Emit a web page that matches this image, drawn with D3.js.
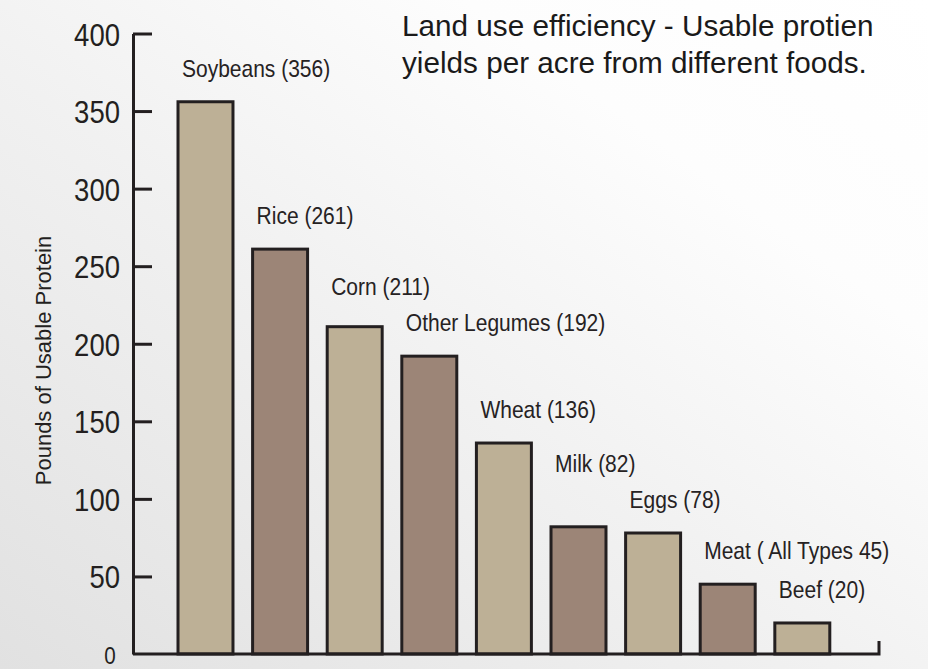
<!DOCTYPE html>
<html>
<head>
<meta charset="utf-8">
<script src="https://cdn.jsdelivr.net/npm/d3@7"></script>
<style>
  html, body { margin: 0; padding: 0; }
  svg { display: block; }
</style>
</head>
<body>
<script>
const categories = ["Soybeans", "Rice", "Corn", "Other Legumes", "Wheat", "Milk", "Eggs", "Meat", "Beef"];
const values = [356, 261, 211, 192, 136, 82, 78, 45, 20];
const barLabels = ["Soybeans (356)", "Rice (261)", "Corn (211)", "Other Legumes (192)", "Wheat (136)", "Milk (82)", "Eggs (78)", "Meat ( All Types 45)", "Beef (20)"];
const tickValues = [0, 50, 100, 150, 200, 250, 300, 350, 400];
const titleLines = ["Land use efficiency - Usable protien", "yields per acre from different foods."];
const yAxisTitle = "Pounds of Usable Protein";

const W = 928, H = 669;
const sans = "'Liberation Sans', Arial, Helvetica, sans-serif";
const ink = "#231f20";
const barColors = ["#bdb096", "#9c8577"];
const condense = 0.875;

const svg = d3.select("body").append("svg").attr("width", W).attr("height", H);

const defs = svg.append("defs");
const lg = defs.append("linearGradient").attr("id", "bg").attr("x1", 0).attr("y1", 1).attr("x2", 1).attr("y2", 0);
lg.append("stop").attr("offset", "0%").attr("stop-color", "#e1e1e1");
lg.append("stop").attr("offset", "45%").attr("stop-color", "#f1f1f1");
lg.append("stop").attr("offset", "75%").attr("stop-color", "#fdfdfd");
lg.append("stop").attr("offset", "100%").attr("stop-color", "#ffffff");
svg.append("rect").attr("width", W).attr("height", H).attr("fill", "url(#bg)");

const axisX = 133, y0 = 654, yTop = 33.5;
const y = d3.scaleLinear().domain([0, 400]).range([y0, yTop]);
const x = d3.scaleBand().domain(categories).range([178, 829.8]).paddingInner(0.263).paddingOuter(0);

// Bars
svg.append("g").selectAll("rect").data(values).join("rect")
  .attr("x", (d, i) => x(categories[i]))
  .attr("y", d => y(d))
  .attr("width", x.bandwidth())
  .attr("height", d => y(0) - y(d))
  .attr("fill", (d, i) => barColors[i % 2])
  .attr("stroke", ink)
  .attr("stroke-width", 3);

// Bar labels (condensed) with simple collision avoidance
const labelG = svg.append("g").attr("font-family", sans).attr("font-size", 24).attr("fill", "#262223");
const pos = values.map((d, i) => ({ x: x(categories[i]) + 4, y: y(d) - 25 }));
const labels = labelG.selectAll("text").data(values).join("text")
  .text((d, i) => barLabels[i]);
const widths = labels.nodes().map(n => n.getComputedTextLength() * condense);
for (let i = pos.length - 2; i >= 0; i--) {
  if (pos[i].x + widths[i] > pos[i + 1].x && pos[i].y > pos[i + 1].y - 36) pos[i].y = pos[i + 1].y - 36;
}
labels.attr("transform", (d, i) => `translate(${pos[i].x},${pos[i].y}) scale(${condense},1)`);

// Y axis
const axis = d3.axisLeft(y).tickValues(tickValues).tickSizeInner(-19).tickSizeOuter(0).tickPadding(13);
const ag = svg.append("g").attr("transform", `translate(${axisX},0)`).call(axis);
ag.select(".domain").attr("stroke", ink).attr("stroke-width", 3);
ag.selectAll(".tick line").attr("stroke", ink).attr("stroke-width", 3);
ag.selectAll(".tick text")
  .attr("font-family", sans).attr("font-size", 32).attr("fill", ink)
  .attr("x", 0).attr("dy", "0.36em")
  .attr("transform", "translate(-13,0) scale(0.86,1)");
ag.selectAll(".tick").filter(d => d === 0).select("line").remove();
ag.selectAll(".tick").filter(d => d === 0).select("text")
  .attr("font-size", 24).attr("text-anchor", "middle").attr("dy", 0)
  .attr("transform", "translate(-23,9.5) scale(0.86,1)");

// Baseline with end tick
svg.append("path")
  .attr("d", d3.line()([[axisX, y0], [879, y0], [879, y0 - 13]]))
  .attr("fill", "none").attr("stroke", ink).attr("stroke-width", 3);

// Y axis title
svg.append("text")
  .attr("transform", `translate(51,${(233 + 488) / 2}) rotate(-90)`)
  .attr("text-anchor", "middle")
  .attr("font-family", sans).attr("font-size", 22).attr("fill", ink)
  .text(yAxisTitle);

// Title
const tg = svg.append("text").attr("font-family", sans)
  .attr("font-size", 29.7).attr("fill", "#1a1a1a");
titleLines.forEach((t, i) => {
  tg.append("tspan").attr("x", 402).attr("y", 36 + i * 37).text(t);
});
</script>
</body>
</html>
